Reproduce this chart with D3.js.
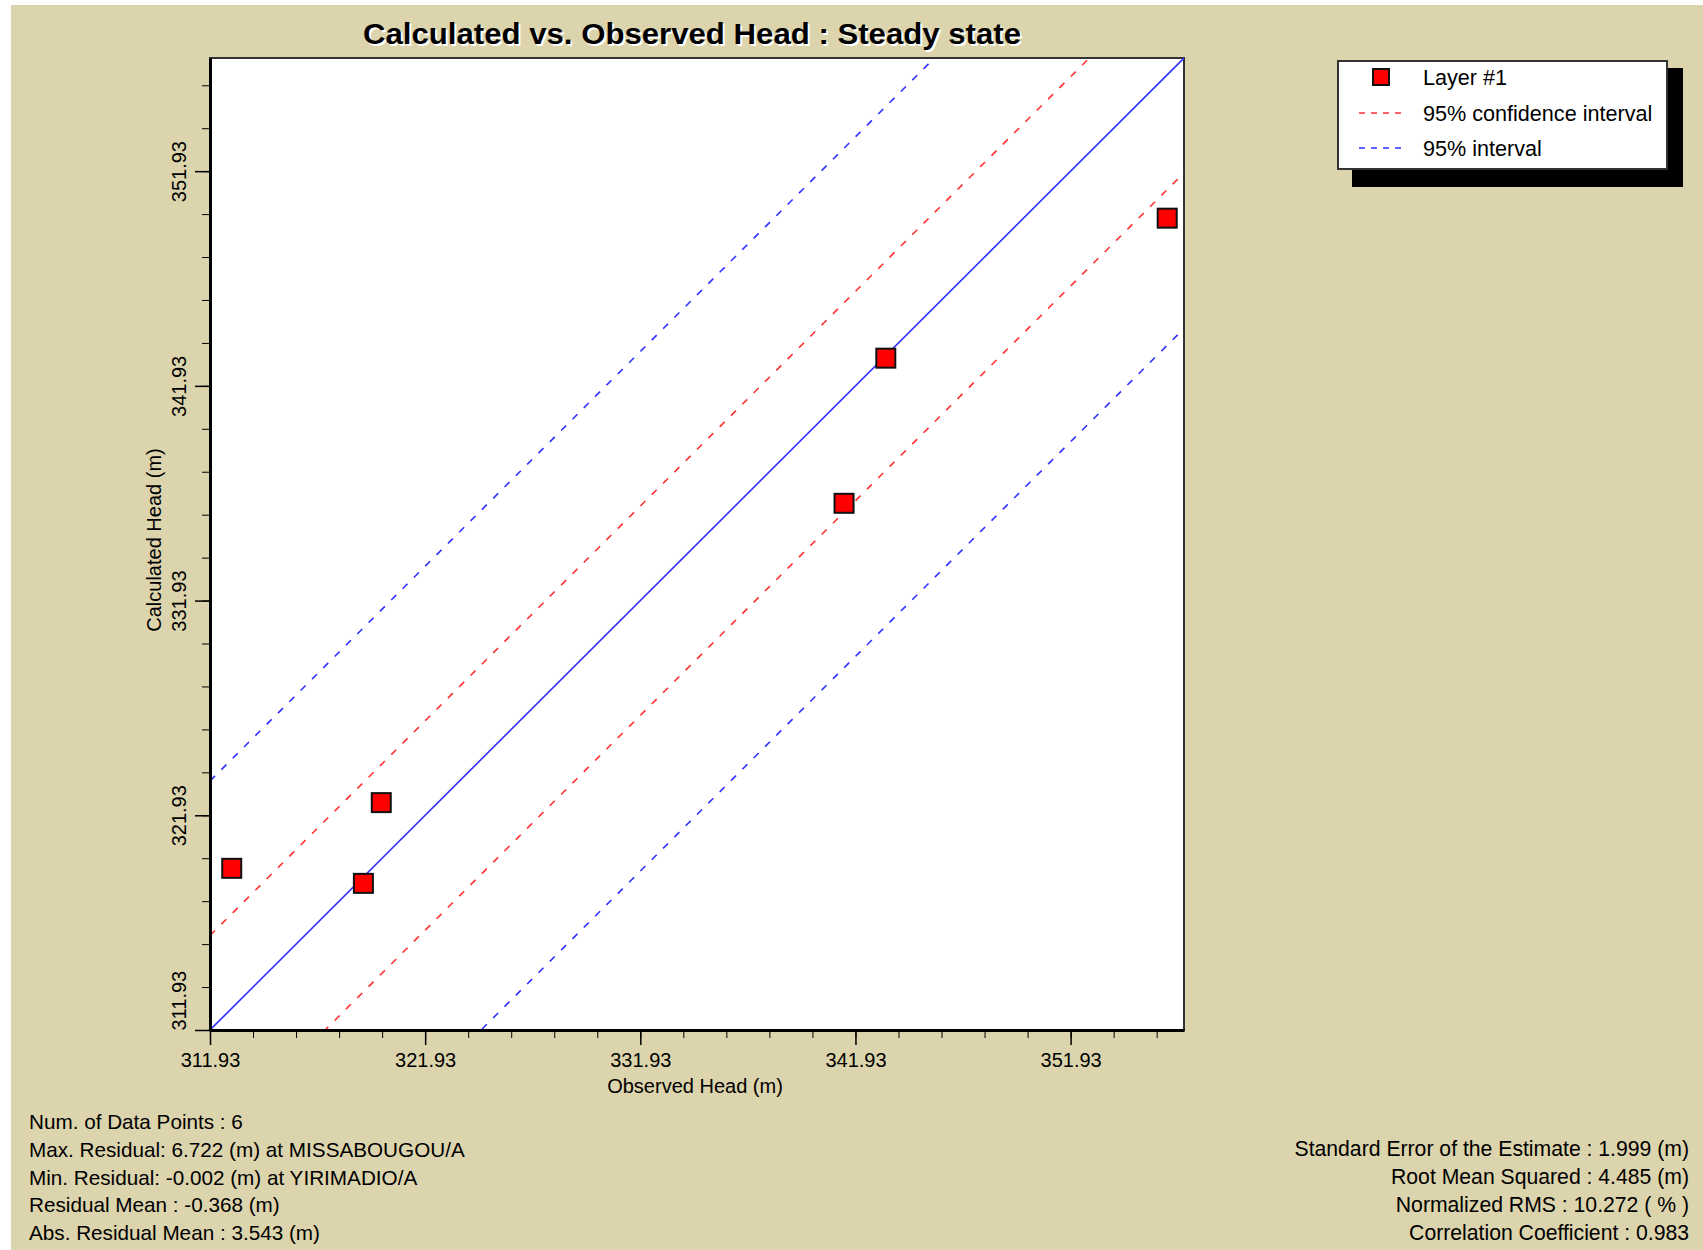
<!DOCTYPE html>
<html>
<head>
<meta charset="utf-8">
<script src="https://cdn.jsdelivr.net/npm/d3@7"></script>
<style>
  body { margin: 0; background: #fff; }
  text { font-family: "Liberation Sans", Arial, sans-serif; fill: #000; }
</style>
</head>
<body>
<div id="chart"></div>
<script>
// observed / calculated heads (m), one entry per well
var observed   = [312.94, 319.06, 319.89, 341.40, 343.34, 356.42];
var calculated = [319.46, 318.76, 322.52, 336.46, 343.22, 349.74];

// offsets of the interval lines from the 1:1 line
var confidenceOffsets = [4.40, -5.35];
var intervalOffsets   = [11.60, -12.60];

var axisDomain = [311.93, 357.2];
var majorTicks = [311.93, 321.93, 331.93, 341.93, 351.93];
var minorTicks = d3.range(0, 23).map(function(i) { return 311.93 + 2 * i; });

var legendLabels = ["Layer #1", "95% confidence interval", "95% interval"];
var statsLeft = [
  "Num. of Data Points : 6",
  "Max. Residual: 6.722 (m) at MISSABOUGOU/A",
  "Min. Residual: -0.002 (m) at YIRIMADIO/A",
  "Residual Mean : -0.368 (m)",
  "Abs. Residual Mean : 3.543 (m)"
];
var statsRight = [
  "Standard Error of the Estimate : 1.999 (m)",
  "Root Mean Squared : 4.485 (m)",
  "Normalized RMS : 10.272 ( % )",
  "Correlation Coefficient : 0.983"
];

var width = 1703, height = 1250;
var bg = "#dcd4ac";
var plot = {left: 210, right: 1184, top: 58, bottom: 1030};

var svg = d3.select("#chart").append("svg")
    .attr("width", width)
    .attr("height", height);

svg.append("rect")
    .attr("x", 11).attr("y", 5)
    .attr("width", width - 11).attr("height", height - 5)
    .attr("fill", bg);

var x = d3.scaleLinear().domain(axisDomain).range([plot.left, plot.right]);
var y = d3.scaleLinear().domain(axisDomain).range([plot.bottom, plot.top]);

// title with a white drop shadow
var titleText = "Calculated vs. Observed Head : Steady state";
[["#fff", 2], ["#000", 0]].forEach(function(s) {
  svg.append("text")
      .attr("x", 692 + s[1]).attr("y", 44 + s[1])
      .attr("text-anchor", "middle")
      .attr("textLength", 658)
      .attr("lengthAdjust", "spacingAndGlyphs")
      .style("font-size", "29px")
      .style("font-weight", "bold")
      .style("fill", s[0])
      .text(titleText);
});

// plot area
svg.append("rect")
    .attr("x", plot.left).attr("y", plot.top)
    .attr("width", plot.right - plot.left)
    .attr("height", plot.bottom - plot.top)
    .attr("fill", "#fff")
    .attr("stroke", "#333")
    .attr("stroke-width", 2);

svg.append("clipPath").attr("id", "clip")
  .append("rect")
    .attr("x", plot.left).attr("y", plot.top)
    .attr("width", plot.right - plot.left)
    .attr("height", plot.bottom - plot.top);

var lines = svg.append("g").attr("clip-path", "url(#clip)");

var diag = d3.line()
    .x(function(d) { return x(d[0]); })
    .y(function(d) { return y(d[1]); });

function offsetLine(off) {
  return [[axisDomain[0] - 20, axisDomain[0] - 20 + off], [axisDomain[1] + 20, axisDomain[1] + 20 + off]];
}

lines.append("path")
    .attr("d", diag(offsetLine(0)))
    .attr("stroke", "#3030ff")
    .attr("stroke-width", 1.6)
    .attr("fill", "none");

confidenceOffsets.forEach(function(off) {
  lines.append("path")
      .attr("d", diag(offsetLine(off)))
      .attr("stroke", "#ff3030")
      .attr("stroke-width", 1.6)
      .attr("stroke-dasharray", "7,9")
      .attr("fill", "none");
});

intervalOffsets.forEach(function(off) {
  lines.append("path")
      .attr("d", diag(offsetLine(off)))
      .attr("stroke", "#3030ff")
      .attr("stroke-width", 1.6)
      .attr("stroke-dasharray", "7,9")
      .attr("fill", "none");
});

// markers
var pts = observed.map(function(o, i) { return [o, calculated[i]]; });
svg.append("g").selectAll("rect")
    .data(pts)
  .enter().append("rect")
    .attr("x", function(d) { return x(d[0]) - 9.5; })
    .attr("y", function(d) { return y(d[1]) - 9.5; })
    .attr("width", 19).attr("height", 19)
    .attr("fill", "#ff0000")
    .attr("stroke", "#111")
    .attr("stroke-width", 2);

// axes: minor ticks, then major ticks with labels
var fmt = d3.format(".2f");

svg.append("g")
    .attr("transform", "translate(0," + plot.bottom + ")")
    .call(d3.axisBottom(x).tickValues(minorTicks).tickSize(8).tickFormat(""))
    .call(function(g) { g.select(".domain").remove(); });

var xAxis = svg.append("g")
    .attr("transform", "translate(0," + plot.bottom + ")")
    .call(d3.axisBottom(x).tickValues(majorTicks).tickSize(15).tickFormat(fmt).tickSizeOuter(0));
xAxis.select(".domain").attr("stroke", "#000").attr("stroke-width", 3);
xAxis.selectAll(".tick line").attr("stroke-width", 1.5);
xAxis.selectAll(".tick text")
    .attr("y", 30)
    .attr("dy", "0.35em")
    .style("font-size", "20px")
    .style("font-family", "Liberation Sans, Arial, sans-serif");

svg.append("g")
    .attr("transform", "translate(" + plot.left + ",0)")
    .call(d3.axisLeft(y).tickValues(minorTicks).tickSize(8).tickFormat(""))
    .call(function(g) { g.select(".domain").remove(); });

var yAxis = svg.append("g")
    .attr("transform", "translate(" + plot.left + ",0)")
    .call(d3.axisLeft(y).tickValues(majorTicks).tickSize(15).tickFormat(fmt).tickSizeOuter(0));
yAxis.select(".domain").attr("stroke", "#000").attr("stroke-width", 3);
yAxis.selectAll(".tick line").attr("stroke-width", 1.5);
yAxis.selectAll(".tick text")
    .attr("x", 0)
    .attr("y", -31)
    .attr("dy", "0.35em")
    .attr("transform", "rotate(-90)")
    .attr("text-anchor", function(d, i) { return i === 0 ? "start" : "middle"; })
    .style("font-size", "20px")
    .style("font-family", "Liberation Sans, Arial, sans-serif");

svg.append("text")
    .attr("x", 695).attr("y", 1086)
    .attr("dy", "0.35em")
    .attr("text-anchor", "middle")
    .style("font-size", "20px")
    .text("Observed Head (m)");

svg.append("text")
    .attr("transform", "translate(154,540) rotate(-90)")
    .attr("dy", "0.35em")
    .attr("text-anchor", "middle")
    .style("font-size", "20px")
    .text("Calculated Head (m)");

// legend
var lg = svg.append("g");
lg.append("rect")
    .attr("x", 1352).attr("y", 68)
    .attr("width", 331).attr("height", 119)
    .attr("fill", "#000");
lg.append("rect")
    .attr("x", 1338).attr("y", 61)
    .attr("width", 329).attr("height", 108)
    .attr("fill", "#fff")
    .attr("stroke", "#333")
    .attr("stroke-width", 2);

var rowY = [77, 113, 148];
lg.append("rect")
    .attr("x", 1373).attr("y", rowY[0] - 8)
    .attr("width", 16).attr("height", 16)
    .attr("fill", "#ff0000")
    .attr("stroke", "#111")
    .attr("stroke-width", 2);
[["#ff3030", rowY[1]], ["#3030ff", rowY[2]]].forEach(function(s) {
  lg.append("line")
      .attr("x1", 1359).attr("x2", 1401)
      .attr("y1", s[1]).attr("y2", s[1])
      .attr("stroke", s[0])
      .attr("stroke-width", 1.6)
      .attr("stroke-dasharray", "6,6");
});
lg.selectAll("text.lab")
    .data(legendLabels)
  .enter().append("text")
    .attr("class", "lab")
    .attr("x", 1423)
    .attr("y", function(d, i) { return rowY[i]; })
    .attr("dy", "0.35em")
    .style("font-size", "21.6px")
    .text(function(d) { return d; });

// statistics
svg.append("g").selectAll("text")
    .data(statsLeft)
  .enter().append("text")
    .attr("x", 29)
    .attr("y", function(d, i) { return 1122 + i * 27.7; })
    .attr("dy", "0.35em")
    .style("font-size", "20.7px")
    .text(function(d) { return d; });

svg.append("g").selectAll("text")
    .data(statsRight)
  .enter().append("text")
    .attr("x", 1689)
    .attr("y", function(d, i) { return 1149 + i * 28; })
    .attr("dy", "0.35em")
    .attr("text-anchor", "end")
    .style("font-size", "21.2px")
    .text(function(d) { return d; });
</script>
</body>
</html>
